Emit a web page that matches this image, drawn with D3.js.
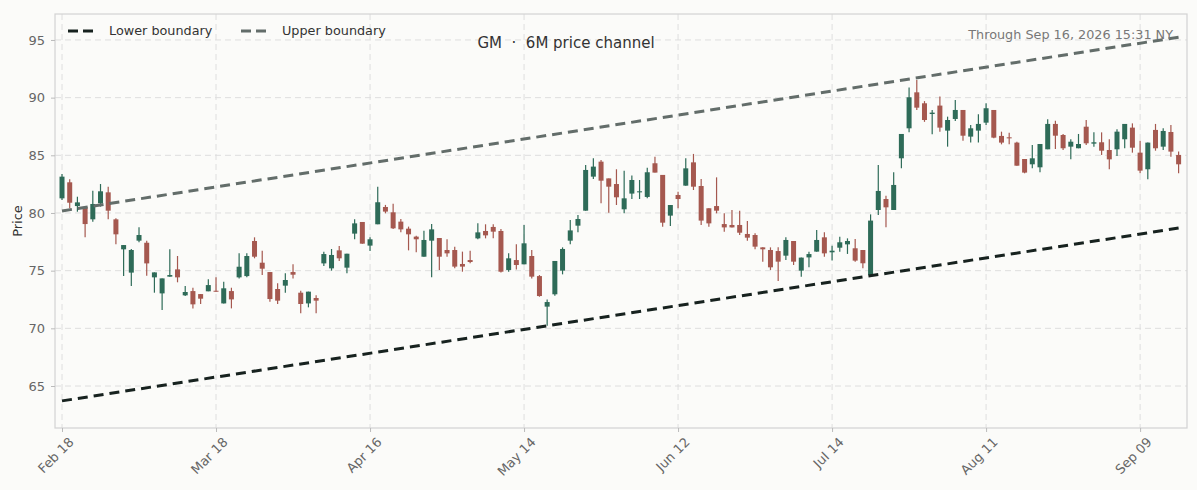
<!DOCTYPE html>
<html>
<head>
<meta charset="utf-8">
<script src="https://cdn.jsdelivr.net/npm/d3@7/dist/d3.min.js"></script>
<style>
  html, body { margin: 0; padding: 0; background: #fbfbf9; }
  svg { display: block; font-family: "DejaVu Sans", Verdana, sans-serif; }
</style>
</head>
<body>
<svg id="chart" width="1197" height="490"></svg>
<script>
// ---- data ----
const startDate = "2026-02-18";
const endDate = "2026-09-16";
const holidays = ["2026-04-03", "2026-05-25", "2026-06-19", "2026-07-03", "2026-09-07"];
const tickLabels = ["Feb 18", "Mar 18", "Apr 16", "May 14", "Jun 12", "Jul 14", "Aug 11", "Sep 09"];
const yTicks = [65, 70, 75, 80, 85, 90, 95];

const open = [81.27,82.66,80.60,80.49,79.45,80.84,81.79,79.45,76.85,74.83,77.60,77.42,74.42,73.03,74.48,75.11,72.86,73.23,72.97,73.21,
73.26,72.16,73.23,74.42,74.53,77.57,75.69,74.88,73.41,73.70,74.88,73.09,72.16,72.63,75.63,75.20,76.76,75.26,78.21,79.22,
77.17,79.02,80.52,80.06,79.25,78.64,77.95,76.21,77.60,77.83,76.79,76.79,75.58,75.92,77.80,78.44,78.79,78.44,75.06,75.92,
75.55,76.27,74.53,71.88,72.95,75.00,77.60,78.90,80.20,83.15,84.45,83.00,82.51,80.32,81.68,81.79,81.39,84.31,83.30,79.77,
81.56,82.37,84.39,82.34,80.41,80.60,79.04,78.96,78.96,78.18,78.09,77.02,76.79,76.70,76.30,77.57,75.00,76.15,76.65,77.89,
76.59,76.99,77.28,76.94,76.79,74.62,80.26,81.21,80.26,84.74,87.34,90.46,89.51,88.58,89.31,87.14,88.15,88.93,86.62,87.14,
87.83,88.93,86.68,86.56,86.10,84.68,84.22,83.96,85.52,87.72,86.76,85.75,85.61,87.48,86.01,86.13,85.46,85.52,86.39,87.40,
85.23,83.79,87.20,85.75,87.02,85.03];
const high = [83.38,82.92,81.41,80.49,81.93,82.51,82.28,79.54,77.22,76.88,78.76,77.60,74.85,74.33,76.85,76.27,73.67,73.52,72.97,74.25,
74.42,74.04,73.52,76.50,76.50,77.89,76.73,74.88,73.90,74.77,75.55,73.26,73.18,72.86,76.64,76.88,77.14,76.47,79.45,79.22,
77.89,82.28,80.70,80.81,79.48,78.82,78.03,78.47,79.05,77.83,77.72,77.08,76.65,76.73,79.10,79.02,79.02,78.61,76.50,77.28,
78.96,76.79,74.62,72.51,75.84,77.02,79.39,79.82,84.16,84.74,84.60,83.00,83.79,83.67,83.24,82.86,83.93,84.88,83.30,80.69,
81.85,84.74,85.12,82.95,80.41,83.09,79.97,80.26,80.20,79.30,78.24,77.02,77.02,77.02,77.89,77.57,76.13,76.65,78.52,78.32,
77.17,77.95,77.80,77.75,76.79,79.88,84.16,81.50,83.53,86.85,90.87,91.53,89.70,88.93,90.09,88.35,89.80,88.93,87.63,88.55,
89.51,88.93,87.05,86.96,86.18,84.68,85.90,85.98,88.12,88.00,86.85,86.39,86.85,88.06,86.99,86.99,86.39,87.25,87.72,87.77,
86.27,86.10,87.72,87.34,87.63,85.32];
const low = [81.13,80.40,80.11,77.89,79.25,80.55,79.45,77.28,74.54,73.67,77.46,74.55,73.09,71.59,74.48,73.99,72.80,71.73,72.11,73.21,
73.18,72.16,71.73,74.33,74.42,76.07,74.62,72.31,72.11,73.09,74.33,71.30,71.82,71.30,75.40,75.00,75.84,74.77,77.72,77.34,
76.71,79.02,79.97,78.61,78.32,76.76,76.59,76.21,74.42,75.06,76.21,75.20,74.91,75.64,77.72,77.80,77.80,74.83,74.91,75.11,
75.55,74.33,72.74,70.23,72.83,74.68,77.28,78.32,80.20,82.95,80.84,80.03,80.69,79.97,81.21,81.21,81.27,83.50,78.81,78.87,
80.41,82.37,81.99,78.96,78.81,79.97,78.38,78.75,78.09,77.60,76.85,75.78,75.06,74.10,75.92,75.49,74.48,75.29,76.65,76.21,
75.87,76.65,76.45,75.78,75.20,74.54,79.83,78.76,80.26,83.87,86.99,88.93,87.90,86.82,87.05,85.75,87.98,86.27,86.10,86.10,
87.63,86.47,85.95,85.95,84.10,83.44,83.87,83.53,85.52,85.55,85.46,84.65,85.61,85.90,85.75,85.03,83.79,84.94,85.61,85.23,
83.44,82.92,85.40,85.46,84.88,83.44];
const close = [83.15,80.89,80.92,79.04,80.78,81.88,80.20,78.15,77.22,76.79,78.09,75.63,74.85,74.33,74.62,74.42,73.15,72.08,72.57,73.75,
73.20,73.47,72.51,75.34,76.27,76.21,75.17,72.54,72.40,74.19,74.65,72.11,73.18,72.40,76.44,76.36,76.07,76.47,79.10,77.34,
77.72,80.93,80.12,78.67,78.58,78.15,77.72,77.66,78.58,76.21,76.50,75.35,75.35,75.75,78.32,78.06,78.38,74.91,76.07,75.49,
77.37,74.48,72.80,72.28,75.84,76.88,78.49,79.48,83.73,84.02,82.80,82.28,81.36,81.27,82.86,81.88,83.53,83.50,79.16,80.69,
81.21,83.87,82.28,79.34,79.10,80.20,78.75,78.75,78.29,77.86,77.08,76.85,75.29,75.78,77.66,75.78,76.13,76.44,77.66,76.50,
76.73,77.46,77.57,75.87,75.64,79.34,81.91,80.49,82.43,86.85,90.03,89.13,88.06,88.70,87.40,88.06,88.93,86.70,87.34,87.72,
89.08,86.53,86.10,86.47,84.10,83.50,84.74,85.98,87.72,86.70,85.61,86.18,85.98,86.04,86.13,85.40,84.65,87.05,87.72,85.66,
83.67,86.10,85.61,87.11,85.32,84.22];

// channel boundaries: value at first and at last session
const lowerBoundary = [63.71, 78.69];
const upperBoundary = [80.18, 95.24];

const seriesNames = ["Lower boundary", "Upper boundary"];
const titleText = "GM  \u00b7  6M price channel";
const subtitleText = "Through Sep 16, 2026 15:31 NY";

// ---- build trading sessions ----
function iso(d) { return d.toISOString().slice(0, 10); }
const sessions = [];
for (let d = new Date(startDate + "T00:00:00Z"); iso(d) <= endDate; d.setUTCDate(d.getUTCDate() + 1)) {
  const wd = d.getUTCDay();
  if (wd === 0 || wd === 6) continue;
  if (holidays.includes(iso(d))) continue;
  sessions.push(new Date(d.getTime()));
}
const fmt = d3.utcFormat("%b %d");
const candles = sessions.map((d, i) => ({ i, date: d, o: open[i], h: high[i], l: low[i], c: close[i] }));

// ---- layout ----
const W = 1197, H = 490;
const m = { left: 55, right: 10, top: 14, bottom: 62 };
const svg = d3.select("#chart");
svg.append("rect").attr("width", W).attr("height", H).attr("fill", "#fbfbf9");

const x = d3.scaleLinear().domain([-0.91, candles.length + 0.09]).range([m.left, W - m.right]);
const y = d3.scaleLinear().domain([61.36, 97.25]).range([H - m.bottom, m.top]);

const upCol = "#2e6b58", downCol = "#a5584f";
const gridCol = "#dedede";

// grid
const tickIdx = tickLabels.map(t => candles.findIndex(c => fmt(c.date) === t));
svg.append("g").selectAll("line").data(yTicks).join("line")
  .attr("x1", m.left).attr("x2", W - m.right)
  .attr("y1", d => y(d)).attr("y2", d => y(d))
  .attr("stroke", gridCol).attr("stroke-width", 1).attr("stroke-dasharray", "6,4");
svg.append("g").selectAll("line").data(tickIdx).join("line")
  .attr("x1", d => x(d)).attr("x2", d => x(d))
  .attr("y1", m.top).attr("y2", H - m.bottom)
  .attr("stroke", gridCol).attr("stroke-width", 1).attr("stroke-dasharray", "6,4");

// frame
svg.append("rect").attr("x", m.left).attr("y", m.top)
  .attr("width", W - m.right - m.left).attr("height", H - m.bottom - m.top)
  .attr("fill", "none").attr("stroke", "#d2d2d2").attr("stroke-width", 1.2);

// axes
const yAxis = d3.axisLeft(y).tickValues(yTicks).tickSize(4).tickPadding(6);
const gy = svg.append("g").attr("transform", `translate(${m.left},0)`).call(yAxis);
gy.select(".domain").remove();
gy.selectAll("line").attr("stroke", "#bbb");
gy.selectAll("text").attr("fill", "#666").style("font-size", "13px")
  .style("font-family", "'DejaVu Sans', sans-serif");

const xAxis = d3.axisBottom(x).tickValues(tickIdx).tickSize(4).tickFormat((d, k) => tickLabels[k]);
const gx = svg.append("g").attr("transform", `translate(0,${H - m.bottom})`).call(xAxis);
gx.select(".domain").remove();
gx.selectAll("line").attr("stroke", "#bbb");
gx.selectAll("text").attr("fill", "#666").style("font-size", "13px")
  .style("font-family", "'DejaVu Sans', sans-serif")
  .attr("text-anchor", "end").attr("dy", null).attr("y", 0)
  .attr("transform", "translate(12,15) rotate(-45)");

svg.append("text").attr("transform", `translate(22,${(m.top + H - m.bottom) / 2}) rotate(-90)`)
  .attr("text-anchor", "middle").attr("fill", "#333").style("font-size", "13px").text("Price");

// candles
const bw = 5;
const cg = svg.append("g");
cg.selectAll("line").data(candles).join("line")
  .attr("x1", d => x(d.i)).attr("x2", d => x(d.i))
  .attr("y1", d => y(d.h)).attr("y2", d => y(d.l))
  .attr("stroke", d => d.c >= d.o ? upCol : downCol).attr("stroke-width", 1.2);
cg.selectAll("rect").data(candles).join("rect")
  .attr("x", d => x(d.i) - bw / 2).attr("width", bw)
  .attr("y", d => y(Math.max(d.o, d.c)))
  .attr("height", d => Math.max(1, Math.abs(y(d.o) - y(d.c))))
  .attr("fill", d => d.c >= d.o ? upCol : downCol);

// channel lines
const lastI = candles.length - 1;
const line = d3.line().x(d => x(d[0])).y(d => y(d[1]));
const chan = [
  { name: seriesNames[0], pts: [[0, lowerBoundary[0]], [lastI, lowerBoundary[1]]], col: "#17221f" },
  { name: seriesNames[1], pts: [[0, upperBoundary[0]], [lastI, upperBoundary[1]]], col: "#636d6a" }
];
svg.append("g").selectAll("path").data(chan).join("path")
  .attr("d", d => line(d.pts)).attr("fill", "none")
  .attr("stroke", d => d.col).attr("stroke-width", 3).attr("stroke-dasharray", "10,6");

// legend
const lg = svg.append("g");
const legX = [68, 241];
chan.forEach((c, k) => {
  lg.append("line").attr("x1", legX[k]).attr("x2", legX[k] + 30).attr("y1", 31).attr("y2", 31)
    .attr("stroke", c.col).attr("stroke-width", 3).attr("stroke-dasharray", "10,5");
  lg.append("text").attr("x", legX[k] + 41).attr("y", 31).attr("dy", "0.35em")
    .attr("fill", "#333").style("font-size", "12.8px").text(c.name);
});

// title + subtitle
svg.append("text").attr("x", 566).attr("y", 43).attr("dy", "0.35em").attr("text-anchor", "middle")
  .attr("fill", "#333").style("font-size", "15px").style("white-space", "pre").text(titleText);
svg.append("text").attr("x", 1173).attr("y", 35).attr("dy", "0.35em").attr("text-anchor", "end")
  .attr("fill", "#777").style("font-size", "12.8px").text(subtitleText);
</script>
</body>
</html>
